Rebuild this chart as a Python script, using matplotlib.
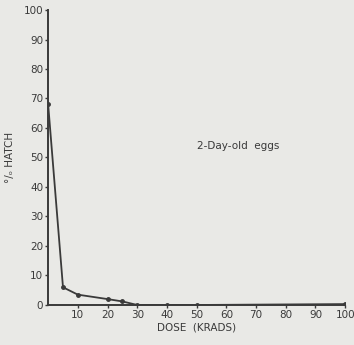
import matplotlib.pyplot as plt

# dose (krads) vs percent hatch
dose = [0, 5, 10, 20, 25, 30, 40, 50, 100]
hatch = [68, 6, 3.5, 2, 1.2, 0, 0, 0, 0.3]
xticks = [10, 20, 30, 40, 50, 60, 70, 80, 90, 100]
yticks = [0, 10, 20, 30, 40, 50, 60, 70, 80, 90, 100]

bg = '#e9e9e6'
ink = '#3a3a3a'

fig = plt.figure(figsize=(3.54, 3.45), dpi=100, facecolor=bg)
ax = fig.add_axes([0.136, 0.116, 0.839, 0.855], facecolor=bg)

ax.plot(dose, hatch, color=ink, lw=1.3, marker='o', ms=2.5, mfc=ink, mec=ink)

ax.set_xlim(0, 100)
ax.set_ylim(0, 100)
ax.set_xticks(xticks)
ax.set_yticks(yticks)
ax.tick_params(colors=ink, labelsize=7.5, length=2.5, width=1, pad=1)
for s in ['top', 'right']:
    ax.spines[s].set_visible(False)
for s in ['left', 'bottom']:
    ax.spines[s].set_color(ink)
    ax.spines[s].set_linewidth(1.4)

ax.set_xlabel('DOSE  (KRADS)', fontsize=7.5, color=ink, labelpad=2)
ax.set_ylabel('°/ₒ HATCH', fontsize=7.5, color=ink, labelpad=6)
ax.text(64, 54, '2-Day-old  eggs', fontsize=7.5, color=ink, ha='center', va='center')

fig.savefig('out.png', dpi=100, facecolor=bg)
